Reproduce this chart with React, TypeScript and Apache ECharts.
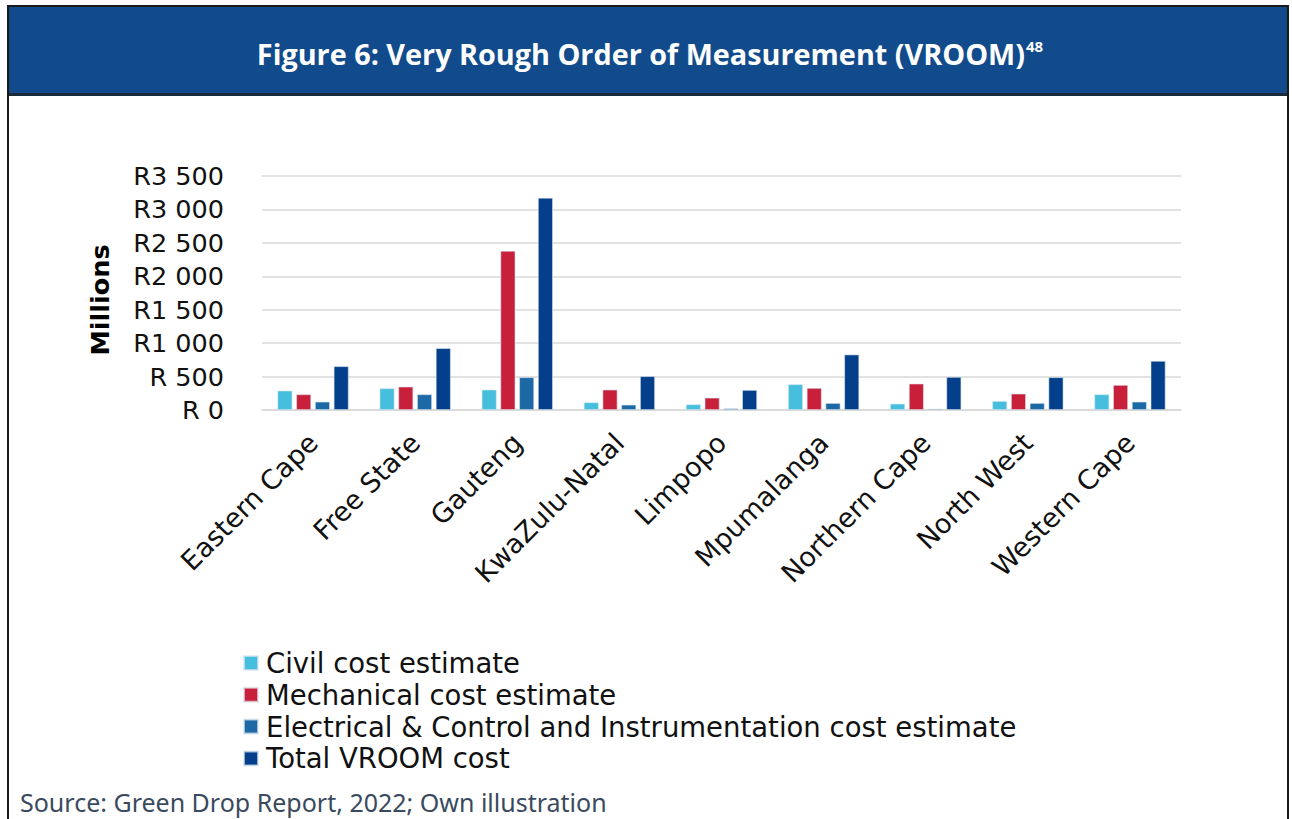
import React, { useEffect, useRef } from "react";
import * as echarts from "echarts";

const categories = [
  "Eastern Cape",
  "Free State",
  "Gauteng",
  "KwaZulu-Natal",
  "Limpopo",
  "Mpumalanga",
  "Northern Cape",
  "North West",
  "Western Cape",
];

const civil = [290, 325, 305, 115, 85, 385, 95, 135, 235];
const mechanical = [235, 350, 2380, 305, 185, 330, 395, 245, 375];
const electrical = [125, 235, 490, 80, 25, 105, 20, 105, 125];
const total = [655, 925, 3175, 505, 300, 830, 495, 490, 735];

const seriesNames = [
  "Civil cost estimate",
  "Mechanical cost estimate",
  "Electrical & Control and Instrumentation cost estimate",
  "Total VROOM cost",
];
const seriesColors = ["#45BFDD", "#C8203B", "#1C69A6", "#033F8A"];

const yTickLabels = ["R 0", "R 500", "R1 000", "R1 500", "R2 000", "R2 500", "R3 000", "R3 500"];
const yAxisTitle = "Millions";

const titleText = "Figure 6: Very Rough Order of Measurement (VROOM)";
const titleSup = "48";
const sourceText = "Source: Green Drop Report, 2022; Own illustration";

export default function App() {
  const ref = useRef<HTMLDivElement>(null);

  useEffect(() => {
    document.body.style.margin = "0";
    const chart = echarts.init(ref.current!, undefined, { renderer: "svg" });
    const data = [civil, mechanical, electrical, total];
    chart.setOption({
      animation: false,
      backgroundColor: "#ffffff",
      grid: { left: 262, right: 111, top: 176, bottom: 409, containLabel: false },
      legend: {
        orient: "vertical",
        left: 243,
        top: 649,
        padding: 0,
        itemWidth: 14,
        itemHeight: 14,
        itemGap: 3.8,
        icon: "rect",
        data: seriesNames,
        textStyle: {
          fontFamily: "DejaVu Sans",
          fontSize: 27.5,
          color: "#111111",
          padding: [0, 0, 0, 3],
        },
      },
      xAxis: {
        type: "category",
        data: categories,
        axisLine: { show: true, lineStyle: { color: "#d9d9d9", width: 1.5 } },
        axisTick: { show: false },
        axisLabel: {
          interval: 0,
          rotate: 45,
          margin: 28,
          fontFamily: "DejaVu Sans",
          fontSize: 27,
          color: "#111111",
        },
      },
      yAxis: {
        type: "value",
        min: 0,
        max: 3500,
        interval: 500,
        axisLine: { show: false },
        axisTick: { show: false },
        splitLine: { lineStyle: { color: "#d9d9d9", width: 1.5 } },
        axisLabel: {
          margin: 38,
          fontFamily: "DejaVu Sans",
          fontSize: 25.5,
          color: "#111111",
          formatter: (v: number) => yTickLabels[Math.round(v / 500)] ?? "",
        },
      },
      series: seriesNames.map((name, i) => ({
        name,
        type: "bar",
        data: data[i],
        barWidth: 15,
        barGap: "25%",
        itemStyle: { color: seriesColors[i], borderColor: "rgba(220,230,240,0.7)", borderWidth: 0.8 },
      })),
      graphic: [
        {
          type: "rect",
          shape: { x: 8, y: 7, width: 1280, height: 87 },
          style: { fill: "#114B8C" },
          z: 10,
        },
        {
          type: "rect",
          shape: { x: 8, y: 93, width: 1280, height: 3 },
          style: { fill: "#1b2a3a" },
          z: 10,
        },
        {
          type: "rect",
          shape: { x: 8, y: 6, width: 1280, height: 830 },
          style: { fill: "none", stroke: "#1a1a1a", lineWidth: 2 },
          z: 11,
        },
        {
          type: "text",
          x: 650,
          y: 53,
          style: {
            text: `{t|${titleText}}{s|${titleSup}}`,
            align: "center",
            verticalAlign: "middle",
            rich: {
              t: { fontFamily: "Open Sans", fontWeight: "bold", fontSize: 28.8, fill: "#ffffff" },
              s: { fontFamily: "Open Sans", fontWeight: "bold", fontSize: 15, fill: "#ffffff", verticalAlign: "top", padding: [0, 0, 13, 1] },
            },
          },
          z: 12,
        },
        {
          type: "text",
          x: 100,
          y: 300,
          rotation: Math.PI / 2,
          style: {
            text: yAxisTitle,
            align: "center",
            verticalAlign: "middle",
            fontFamily: "DejaVu Sans",
            fontWeight: "bold",
            fontSize: 25.5,
            fill: "#000000",
          },
          z: 12,
        },
        {
          type: "text",
          x: 20,
          y: 802,
          style: {
            text: sourceText,
            align: "left",
            verticalAlign: "middle",
            fontFamily: "Noto Sans",
            fontSize: 25,
            fill: "#3A4A5E",
          },
          z: 12,
        },
      ],
    });
    return () => chart.dispose();
  }, []);

  return <div ref={ref} style={{ position: "fixed", left: 0, top: 0, width: 1292, height: 819 }} />;
}
